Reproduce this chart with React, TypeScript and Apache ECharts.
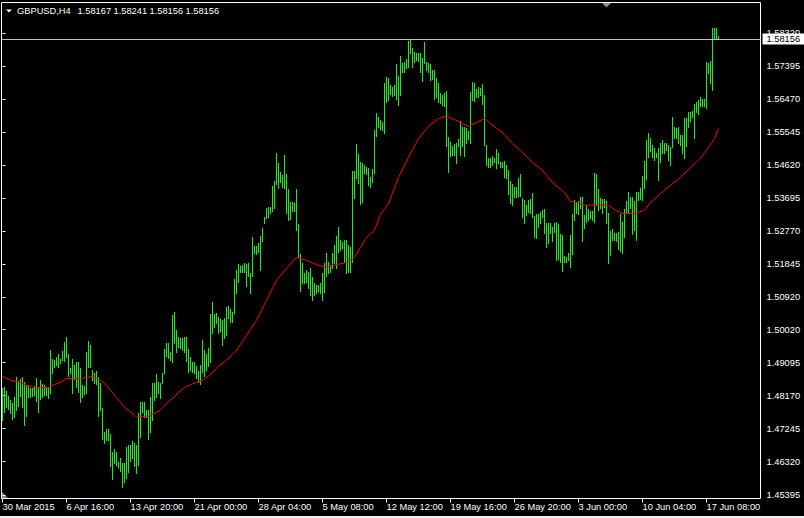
import React, { useEffect, useRef } from "react";
import * as echarts from "echarts";

// H4 bars: high / low per bar (bar index = position in array)
const highs = [
  1.4838,1.4840,1.4829,1.4815,1.4804,1.4795,1.4812,1.4868,1.4857,1.4862,
  1.4868,1.4854,1.4846,1.4846,1.4837,1.4837,1.4843,1.4865,1.4840,1.4860,
  1.4848,1.4846,1.4840,1.4840,1.4944,1.4918,1.4916,1.4924,1.4932,1.4918,
  1.4941,1.4966,1.4980,1.4932,1.4893,1.4918,1.4902,1.4910,1.4910,1.4893,
  1.4846,1.4843,1.4938,1.4969,1.4958,1.4888,1.4879,1.4885,1.4868,1.4851,
  1.4781,1.4714,1.4722,1.4722,1.4708,1.4658,1.4666,1.4658,1.4630,1.4641,
  1.4627,1.4627,1.4672,1.4678,1.4678,1.4689,1.4683,1.4678,1.4767,1.4798,
  1.4798,1.4798,1.4776,1.4776,1.4812,1.4851,1.4851,1.4876,1.4854,1.4851,
  1.4879,1.4946,1.4963,1.4963,1.4938,1.5042,1.5050,1.5000,1.4980,1.4977,
  1.4977,1.4980,1.4980,1.4946,1.4924,1.4910,1.4910,1.4899,1.4885,1.4902,
  1.4972,1.4944,1.4932,1.4949,1.5044,1.5078,1.5044,1.5047,1.5036,1.5030,
  1.5028,1.5033,1.5064,1.5067,1.5058,1.5050,1.5142,1.5168,1.5184,1.5179,
  1.5182,1.5187,1.5184,1.5187,1.5159,1.5260,1.5235,1.5235,1.5243,1.5263,
  1.5285,1.5316,1.5341,1.5344,1.5344,1.5403,1.5417,1.5495,1.5467,1.5442,
  1.5434,1.5490,1.5436,1.5394,1.5358,1.5358,1.5355,1.5394,1.5296,1.5212,
  1.5187,1.5159,1.5168,1.5162,1.5173,1.5148,1.5131,1.5126,1.5126,1.5131,
  1.5159,1.5187,1.5215,1.5190,1.5182,1.5215,1.5238,1.5263,1.5288,1.5252,
  1.5246,1.5252,1.5252,1.5238,1.5232,1.5445,1.5445,1.5520,1.5492,1.5470,
  1.5467,1.5462,1.5456,1.5453,1.5428,1.5450,1.5560,1.5607,1.5596,1.5588,
  1.5582,1.5691,1.5708,1.5705,1.5686,1.5680,1.5686,1.5744,1.5711,1.5767,
  1.5747,1.5750,1.5758,1.5809,1.5812,1.5789,1.5778,1.5775,1.5775,1.5775,
  1.5761,1.5806,1.5750,1.5747,1.5744,1.5728,1.5728,1.5705,1.5691,1.5663,
  1.5658,1.5663,1.5669,1.5540,1.5526,1.5515,1.5520,1.5523,1.5534,1.5585,
  1.5568,1.5568,1.5565,1.5557,1.5666,1.5694,1.5691,1.5674,1.5680,1.5677,
  1.5688,1.5658,1.5518,1.5481,1.5481,1.5487,1.5481,1.5506,1.5495,1.5470,
  1.5470,1.5473,1.5462,1.5448,1.5417,1.5408,1.5400,1.5400,1.5425,1.5436,
  1.5369,1.5364,1.5350,1.5364,1.5366,1.5383,1.5319,1.5324,1.5324,1.5330,
  1.5336,1.5338,1.5299,1.5299,1.5299,1.5288,1.5299,1.5302,1.5296,1.5268,
  1.5266,1.5207,1.5204,1.5215,1.5266,1.5324,1.5364,1.5358,1.5361,1.5372,
  1.5372,1.5322,1.5350,1.5338,1.5333,1.5333,1.5439,1.5436,1.5394,1.5369,
  1.5366,1.5366,1.5361,1.5327,1.5277,1.5282,1.5271,1.5271,1.5274,1.5324,
  1.5302,1.5338,1.5361,1.5386,1.5372,1.5372,1.5361,1.5386,1.5386,1.5397,
  1.5431,1.5473,1.5532,1.5551,1.5537,1.5518,1.5509,1.5495,1.5509,1.5523,
  1.5532,1.5523,1.5523,1.5518,1.5512,1.5596,1.5568,1.5565,1.5568,1.5546,
  1.5546,1.5593,1.5593,1.5610,1.5610,1.5613,1.5632,1.5638,1.5644,1.5652,
  1.5646,1.5646,1.5750,1.5747,1.5753,1.5845,1.5845,1.5845,1.58241
];

const lows = [
  1.4748,1.4770,1.4784,1.4778,1.4767,1.4750,1.4756,1.4776,1.4787,1.4815,
  1.4784,1.4734,1.4759,1.4812,1.4812,1.4815,1.4818,1.4801,1.4770,1.4806,
  1.4812,1.4818,1.4818,1.4809,1.4823,1.4879,1.4896,1.4902,1.4896,1.4907,
  1.4916,1.4913,1.4924,1.4871,1.4879,1.4823,1.4862,1.4840,1.4826,1.4798,
  1.4812,1.4820,1.4823,1.4896,1.4896,1.4860,1.4851,1.4848,1.4759,1.4776,
  1.4694,1.4683,1.4692,1.4692,1.4619,1.4582,1.4627,1.4622,1.4616,1.4605,
  1.4560,1.4574,1.4585,1.4602,1.4633,1.4641,1.4619,1.4599,1.4622,1.4700,
  1.4770,1.4756,1.4756,1.4694,1.4714,1.4748,1.4804,1.4812,1.4823,1.4809,
  1.4851,1.4879,1.4927,1.4921,1.4916,1.4910,1.4963,1.4938,1.4952,1.4949,
  1.4944,1.4938,1.4913,1.4882,1.4888,1.4882,1.4879,1.4865,1.4854,1.4848,
  1.4882,1.4871,1.4888,1.4899,1.4910,1.4991,1.5008,1.5019,1.4991,1.4997,
  1.4958,1.4977,1.4986,1.5033,1.5022,1.5022,1.5047,1.5103,1.5134,1.5162,
  1.5162,1.5162,1.5123,1.5151,1.5103,1.5151,1.5215,1.5212,1.5218,1.5168,
  1.5249,1.5299,1.5313,1.5316,1.5327,1.5333,1.5341,1.5408,1.5397,1.5414,
  1.5400,1.5397,1.5327,1.5308,1.5310,1.5333,1.5333,1.5280,1.5204,1.5109,
  1.5131,1.5131,1.5134,1.5117,1.5098,1.5084,1.5098,1.5103,1.5109,1.5103,
  1.5084,1.5106,1.5151,1.5159,1.5162,1.5173,1.5187,1.5173,1.5218,1.5224,
  1.5229,1.5190,1.5159,1.5162,1.5162,1.5190,1.5369,1.5425,1.5411,1.5352,
  1.5358,1.5439,1.5436,1.5406,1.5400,1.5414,1.5439,1.5543,1.5568,1.5562,
  1.5560,1.5551,1.5638,1.5644,1.5660,1.5655,1.5658,1.5646,1.5630,1.5658,
  1.5722,1.5722,1.5733,1.5736,1.5775,1.5736,1.5750,1.5756,1.5753,1.5722,
  1.5697,1.5747,1.5728,1.5722,1.5700,1.5702,1.5646,1.5652,1.5638,1.5635,
  1.5630,1.5627,1.5515,1.5442,1.5487,1.5490,1.5490,1.5467,1.5515,1.5490,
  1.5515,1.5487,1.5523,1.5534,1.5523,1.5644,1.5641,1.5652,1.5652,1.5658,
  1.5632,1.5518,1.5462,1.5456,1.5456,1.5462,1.5470,1.5453,1.5467,1.5456,
  1.5456,1.5428,1.5425,1.5380,1.5355,1.5350,1.5372,1.5372,1.5375,1.5375,
  1.5316,1.5299,1.5322,1.5330,1.5327,1.5316,1.5260,1.5257,1.5288,1.5299,
  1.5316,1.5271,1.5232,1.5243,1.5271,1.5249,1.5274,1.5196,1.5198,1.5190,
  1.5165,1.5190,1.5190,1.5196,1.5176,1.5212,1.5308,1.5327,1.5324,1.5341,
  1.5249,1.5285,1.5302,1.5308,1.5313,1.5308,1.5302,1.5350,1.5336,1.5341,
  1.5327,1.5344,1.5299,1.5187,1.5210,1.5252,1.5252,1.5249,1.5226,1.5221,
  1.5215,1.5260,1.5327,1.5327,1.5341,1.5268,1.5280,1.5252,1.5364,1.5366,
  1.5364,1.5397,1.5422,1.5484,1.5501,1.5484,1.5476,1.5484,1.5420,1.5470,
  1.5495,1.5495,1.5504,1.5476,1.5462,1.5512,1.5537,1.5537,1.5523,1.5518,
  1.5495,1.5481,1.5515,1.5568,1.5585,1.5596,1.5537,1.5610,1.5604,1.5627,
  1.5627,1.5627,1.5621,1.5719,1.5691,1.5672,1.5814,1.5817,1.58156
];

// Moving average (red line), read at these bar indices
const maBars = [
  0,4,9,12,16,19,23,26,29,32,35,39,42,45,47,49,52,54,57,59,
  61,63,65,67,69,72,74,77,79,82,85,88,91,94,97,100,104,108,112,117,
  122,127,132,137,142,147,152,157,162,167,172,176,179,182,186,189,193,198,203,208,
  213,218,222,226,230,233,237,241,245,250,255,260,265,270,275,281,284,287,292,297,
  303,306,310,316,321,324,329,334,339,344,349,352,356,358
];
const maValues = [
  1.4871,1.4860,1.4854,1.4846,1.4840,1.4840,1.4840,1.4848,1.4854,1.4865,
  1.4865,1.4865,1.4868,1.4871,1.4868,1.4860,1.4846,1.4832,1.4812,1.4798,
  1.4784,1.4776,1.4767,1.4757,1.4759,1.4757,1.4762,1.4770,1.4776,1.4795,
  1.4809,1.4826,1.4840,1.4848,1.4854,1.4860,1.4876,1.4899,1.4916,1.4944,
  1.4986,1.5028,1.5084,1.5140,1.5173,1.5204,1.5196,1.5184,1.5176,1.5184,
  1.5190,1.5204,1.5232,1.5260,1.5280,1.5324,1.5355,1.5428,1.5484,1.5537,
  1.5571,1.5593,1.5599,1.5590,1.5579,1.5571,1.5582,1.5593,1.5574,1.5554,
  1.5523,1.5498,1.5470,1.5448,1.5414,1.5386,1.5361,1.5358,1.5350,1.5352,
  1.5350,1.5338,1.5327,1.5327,1.5336,1.5358,1.5383,1.5406,1.5428,1.5456,
  1.5481,1.5504,1.5537,1.5565
];

const timeTickBars = [0, 32, 64, 96, 128, 160, 192, 224, 256, 288, 320, 352];
const timeLabels = [
  "30 Mar 2015", "6 Apr 16:00", "13 Apr 20:00", "21 Apr 00:00", "28 Apr 04:00", "5 May 08:00",
  "12 May 12:00", "19 May 16:00", "26 May 20:00", "3 Jun 00:00", "10 Jun 04:00", "17 Jun 08:00"
];
const priceTicks = [
  1.45395, 1.46320, 1.47245, 1.48170, 1.49095, 1.50020, 1.50920, 1.51845,
  1.52770, 1.53695, 1.54620, 1.55545, 1.56470, 1.57395, 1.58320
];
const symbolName = "GBPUSD,H4";
const lastOHLC = [1.58167, 1.58241, 1.58156, 1.58156];
const lastPrice = 1.58156;

const FONT = "'Liberation Sans', Arial, sans-serif";

export default function App() {
  const ref = useRef<HTMLDivElement>(null);

  useEffect(() => {
    document.body.style.margin = "0";
    document.body.style.background = "#000";
    const chart = echarts.init(ref.current as HTMLDivElement, null, { renderer: "svg" });
    const barData = highs.map((h, i) => [i, h, lows[i]]);
    const maData = maBars.map((b, k) => [b, maValues[k]]);

    const headerTexts: any[] = [
      { type: "polygon", shape: { points: [[6, 9.5], [12, 9.5], [9, 12.5]] }, style: { fill: "#ffffff" } },
      { type: "text", x: 17, y: 11, style: { text: symbolName, fill: "#ffffff", font: `9.3px ${FONT}`, verticalAlign: "middle" } },
    ];
    lastOHLC.forEach((v, k) => {
      headerTexts.push({
        type: "text", x: 77.5 + 36 * k, y: 11,
        style: { text: v.toFixed(5), fill: "#ffffff", font: `9.3px ${FONT}`, verticalAlign: "middle" },
      });
    });

    chart.setOption({
      animation: false,
      backgroundColor: "#000000",
      grid: {
        left: 1.5, top: 2.5, right: 43.5, bottom: 19.5,
        show: true, borderColor: "#ffffff", borderWidth: 1, backgroundColor: "transparent",
        containLabel: false, outerBoundsMode: "none",
      },
      xAxis: {
        type: "value", min: -0.5, max: 379,
        splitLine: { show: false },
        axisLine: { show: false },
        axisTick: { show: true, length: 4, lineStyle: { color: "#ffffff" }, customValues: timeTickBars },
        axisLabel: {
          customValues: timeTickBars, color: "#ffffff", fontSize: 9.3, fontFamily: FONT,
          align: "left", margin: 4, hideOverlap: false,
          formatter: (v: number) => {
            const k = timeTickBars.indexOf(Math.round(v));
            return k >= 0 ? timeLabels[k] : "";
          },
        },
      },
      yAxis: {
        type: "value", position: "right", min: 1.45291, max: 1.59179,
        splitLine: { show: false },
        axisLine: { show: false },
        axisTick: { show: true, length: 3, lineStyle: { color: "#ffffff" }, customValues: priceTicks },
        axisLabel: {
          customValues: priceTicks, color: "#ffffff", fontSize: 9.3, fontFamily: FONT, margin: 6,
          formatter: (v: number) => v.toFixed(5),
        },
      },
      graphic: [
        ...headerTexts,
        { type: "polygon", shape: { points: [[602, 3], [611, 3], [606.5, 7.5]] }, style: { fill: "#8c8c8c" } },
        { type: "polygon", shape: { points: [[2, 492], [2, 498], [8, 498]] }, style: { fill: "#7a8490" } },
        { type: "rect", shape: { x: 0, y: 516, width: 804, height: 2 }, style: { fill: "#f0f0f0" } },
      ],
      series: [
        {
          type: "custom",
          data: barData,
          encode: { x: 0, y: [1, 2] },
          z: 2,
          renderItem: (params: any, api: any) => {
            const i = api.value(0);
            const top = api.coord([i, api.value(1)]);
            const bot = api.coord([i, api.value(2)]);
            const x = Math.floor(top[0]) + 0.5;
            return {
              type: "line",
              shape: { x1: x, y1: Math.floor(top[1]), x2: x, y2: Math.floor(bot[1]) + 1 },
              style: { stroke: "#00ff00", lineWidth: 1 },
            };
          },
        },
        {
          type: "line",
          data: maData,
          showSymbol: false,
          symbol: "none",
          z: 3,
          lineStyle: { color: "#ff0000", width: 1 },
          markLine: {
            silent: true,
            precision: 5,
            symbol: ["none", "none"],
            data: [{ yAxis: lastPrice }],
            lineStyle: { color: "#c0c0c0", width: 1, type: "solid" },
            label: {
              show: true, position: "end", distance: 2,
              formatter: lastPrice.toFixed(5),
              color: "#000000", backgroundColor: "#ffffff",
              fontSize: 9.3, fontFamily: FONT, lineHeight: 9, padding: [1, 6, 1, 4],
            },
          },
        },
      ],
    });

    return () => chart.dispose();
  }, []);

  return (
    <div
      ref={ref}
      style={{ position: "fixed", left: 0, top: 0, width: 804, height: 518, background: "#000" }}
    />
  );
}
